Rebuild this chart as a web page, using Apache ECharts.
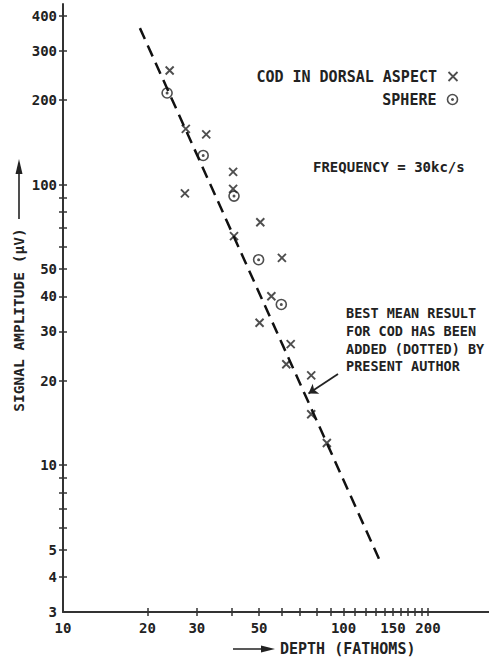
<!DOCTYPE html>
<html><head><meta charset="utf-8">
<script src="https://cdn.jsdelivr.net/npm/echarts@6/dist/echarts.min.js"></script>
<style>html,body{margin:0;padding:0;background:#fff}#c{width:489px;height:660px}</style>
</head><body><div id="c"></div>
<script>
// ---- data ----
const codDepth = [24.0, 27.4, 32.4, 40.4, 40.4, 27.2, 50.5, 40.7, 60.3, 55.3, 50.2, 64.8, 62.5, 76.7, 76.7, 87.2];
const codAmp   = [255, 158, 151, 111, 96.5, 93, 73.4, 65.5, 54.8, 40.0, 32.2, 27, 22.9, 20.9, 15.2, 12.0];
const sphereDepth = [23.5, 31.6, 40.7, 49.8, 60.0];
const sphereAmp   = [212, 127, 91, 54, 37.4];
const lineDepth = [18.8, 137];
const lineAmp   = [361, 4.4];
const bestMean  = [75, 18];
const xTickValues  = [20,30,40,50,60,70,80,90,100,110,120,130,140,150,160,170,180,190,200];
const xLabelValues = [10,20,30,50,100,150,200];
const yTickValues  = [4,5,6,7,8,9,10,20,30,40,50,60,70,80,90,100,200,300,400];
const yLabelValues = [3,4,5,10,20,30,40,50,100,200,300,400];
const legendNames = ['COD IN DORSAL ASPECT', 'SPHERE'];
const noteLines = ['BEST MEAN RESULT', 'FOR COD HAS BEEN', 'ADDED (DOTTED) BY', 'PRESENT AUTHOR'];

const FONT = 'DejaVu Sans Mono';
const INK = '#222';
const zip = (a, b) => a.map((v, i) => [v, b[i]]);

const crossPath = 'path://M0,0L10,10M10,0L0,10';
const ringPath = 'path://M0,5A5,5 0 1,1 10,5A5,5 0 1,1 0,5ZM4.3,5A0.7,0.7 0 1,1 5.7,5A0.7,0.7 0 1,1 4.3,5Z';

function axisPair(kind, min, max, ticks, labels) {
  const base = {
    type: 'log', logBase: 10, min: min, max: max,
    splitLine: { show: false }, minorTick: { show: false }, minorSplitLine: { show: false }
  };
  const main = Object.assign({}, base, {
    position: kind === 'x' ? 'bottom' : 'left',
    axisLine: { show: true, lineStyle: { color: '#333', width: 2 } },
    axisTick: { show: true, customValues: ticks, length: 4, lineStyle: { color: '#333', width: 1.5 } },
    axisLabel: { show: true, customValues: labels, margin: kind === 'x' ? 9 : 6, color: INK,
      fontFamily: FONT, fontSize: 14, fontWeight: 'bold' }
  });
  const inner = Object.assign({}, base, {
    position: kind === 'x' ? 'bottom' : 'left',
    axisLine: { show: false },
    axisTick: { show: true, inside: true, customValues: ticks, length: 4, lineStyle: { color: '#333', width: 1.5 } },
    axisLabel: { show: false }
  });
  return [main, inner];
}

const chart = echarts.init(document.getElementById('c'), null, { renderer: 'svg' });
const txt = (text, x, y, size, extra) => Object.assign({
  type: 'text', x: x, y: y, silent: true,
  style: { text: text, fill: INK, font: 'bold ' + size + 'px "' + FONT + '"', verticalAlign: 'middle' }
}, extra || {});
const legendText = { color: INK, fontFamily: FONT, fontSize: 15, fontWeight: 'bold' };

chart.setOption({
  animation: false,
  backgroundColor: '#fff',
  grid: { left: 63, right: 0, top: 4, bottom: 48 },
  xAxis: axisPair('x', 10, 330, xTickValues, xLabelValues),
  yAxis: axisPair('y', 3, 440, yTickValues, yLabelValues),
  legend: [
    { data: [legendNames[0]], right: 29, top: 69, padding: 0, align: 'right', itemWidth: 22, itemHeight: 9,
      selectedMode: false, itemStyle: { color: 'none', borderColor: INK, borderWidth: 1.8 }, textStyle: legendText },
    { data: [legendNames[1]], right: 29, top: 92, padding: 0, align: 'right', itemWidth: 22, itemHeight: 10,
      selectedMode: false, itemStyle: { color: 'none', borderColor: INK, borderWidth: 1.6 }, textStyle: legendText }
  ],
  series: [
    { name: 'best mean', type: 'line', xAxisIndex: 0, yAxisIndex: 0,
      data: zip(lineDepth, lineAmp), symbol: 'none', silent: true,
      lineStyle: { color: '#111', width: 2.5, type: [12, 7] },
      markLine: { silent: true, symbol: ['none', 'arrow'], symbolSize: 9, animation: false,
        lineStyle: { type: 'solid', color: INK, width: 1.8 }, label: { show: false },
        data: [[{ x: 338, y: 374 }, { coord: bestMean }]] } },
    { name: legendNames[0], type: 'scatter', xAxisIndex: 0, yAxisIndex: 0,
      data: zip(codDepth, codAmp), symbol: crossPath, symbolSize: 8, symbolKeepAspect: true,
      itemStyle: { color: 'none', borderColor: INK, borderWidth: 1.9 } },
    { name: legendNames[1], type: 'scatter', xAxisIndex: 0, yAxisIndex: 0,
      data: zip(sphereDepth, sphereAmp), symbol: ringPath, symbolSize: 10, symbolKeepAspect: true,
      itemStyle: { color: 'none', borderColor: INK, borderWidth: 1.6 } }
  ],
  graphic: [
    txt('FREQUENCY = 30kc/s', 313, 167, 14),
    txt(noteLines[0], 346, 313, 13.5),
    txt(noteLines[1], 346, 331, 13.5),
    txt(noteLines[2], 346, 349, 13.5),
    txt(noteLines[3], 346, 366, 13.5),
    txt('SIGNAL AMPLITUDE (\u03bcV)', 19, 320, 14.5, { rotation: Math.PI / 2, style: { text: 'SIGNAL AMPLITUDE (\u03bcV)', fill: INK, font: 'bold 14.5px "' + FONT + '"', verticalAlign: 'middle', align: 'center' } }),
    { type: 'line', silent: true, shape: { x1: 19, y1: 219, x2: 19, y2: 170 }, style: { stroke: INK, lineWidth: 1.6 } },
    { type: 'polygon', silent: true, shape: { points: [[19, 159], [15.5, 174], [22.5, 174]] }, style: { fill: INK } },
    { type: 'line', silent: true, shape: { x1: 233, y1: 649, x2: 266, y2: 649 }, style: { stroke: INK, lineWidth: 1.6 } },
    { type: 'polygon', silent: true, shape: { points: [[275, 649], [261, 645.5], [261, 652.5]] }, style: { fill: INK } },
    txt('DEPTH (FATHOMS)', 280, 649, 15)
  ]
});
</script></body></html>
